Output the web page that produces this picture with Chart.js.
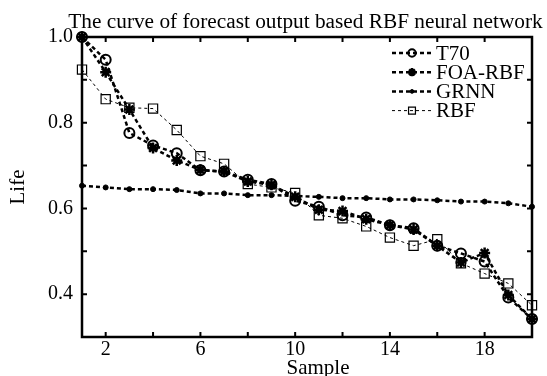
<!DOCTYPE html>
<html>
<head>
<meta charset="utf-8">
<script src="https://cdn.jsdelivr.net/npm/chart.js@4.4.0/dist/chart.umd.min.js"></script>
<style>
html, body { margin: 0; padding: 0; background: #fff; }
</style>
</head>
<body>
<canvas id="myChart" width="547" height="376"></canvas>
<script>
// values
const samples = [1, 2, 3, 4, 5, 6, 7, 8, 9, 10, 11, 12, 13, 14, 15, 16, 17, 18, 19, 20];
const t70 = [1.0, 0.947, 0.776, 0.747, 0.729, 0.689, 0.686, 0.667, 0.657, 0.618, 0.604, 0.584, 0.579, 0.561, 0.554, 0.513, 0.495, 0.476, 0.392, 0.342];
const foaRbf = [1.0, 0.918, 0.831, 0.741, 0.712, 0.690, 0.686, 0.663, 0.655, 0.627, 0.597, 0.594, 0.575, 0.561, 0.551, 0.513, 0.474, 0.496, 0.398, 0.342];
const grnn = [0.653, 0.649, 0.645, 0.645, 0.643, 0.635, 0.635, 0.631, 0.631, 0.629, 0.627, 0.624, 0.624, 0.621, 0.621, 0.619, 0.616, 0.616, 0.612, 0.604];
const rbf = [0.924, 0.855, 0.835, 0.833, 0.783, 0.722, 0.704, 0.657, 0.649, 0.636, 0.584, 0.577, 0.558, 0.532, 0.513, 0.528, 0.472, 0.448, 0.425, 0.374];

const xTickMarks = [2, 4, 6, 8, 10, 12, 14, 16, 18];
const xTickLabels = [2, 6, 10, 14, 18];
const yTickMarks = [0.4, 0.5, 0.6, 0.7, 0.8, 0.9];
const yTickLabels = [0.4, 0.6, 0.8, 1.0];

const titleText = 'The curve of forecast output based RBF neural network';
const xTitle = 'Sample';
const yTitle = 'Life';

const serif = '"Liberation Serif", "Times New Roman", serif';
const ctx = document.getElementById('myChart');

function toPoints(arr) {
    return samples.map((s, i) => ({ x: s, y: arr[i] }));
}

// box round the plot with inward ticks on all four sides
const framePlugin = {
    id: 'frame',
    beforeDatasetsDraw(chart) {
        const c = chart.ctx;
        const a = chart.chartArea;
        const xs = chart.scales.x;
        const ys = chart.scales.y;
        c.save();
        c.strokeStyle = '#000';
        c.lineWidth = 2;
        c.beginPath();
        xTickMarks.forEach(v => {
            const px = xs.getPixelForValue(v);
            c.moveTo(px, a.bottom); c.lineTo(px, a.bottom - 5);
            c.moveTo(px, a.top); c.lineTo(px, a.top + 5);
        });
        yTickMarks.forEach(v => {
            const py = ys.getPixelForValue(v);
            c.moveTo(a.left, py); c.lineTo(a.left + 5, py);
            c.moveTo(a.right, py); c.lineTo(a.right - 5, py);
        });
        c.stroke();
        c.lineWidth = 2.5;
        c.strokeRect(a.left, a.top, a.right - a.left, a.bottom - a.top);
        c.restore();
    },
    afterDraw(chart) {
        const c = chart.ctx;
        const a = chart.chartArea;
        c.save();
        c.fillStyle = '#000';
        c.textAlign = 'center';
        c.textBaseline = 'alphabetic';
        // title, nearly centred over the plot
        c.font = '21.3px ' + serif;
        c.fillText(titleText, (a.left + a.right) / 2 - 1.5, 28);
        // x axis title sits a bit right of centre in the figure
        c.font = '21px ' + serif;
        c.fillText(xTitle, (a.left + a.right) / 2 + 11, 374);
        c.restore();
    }
};

// legend inside the plot, upper right
const legendPlugin = {
    id: 'innerLegend',
    afterDraw(chart) {
        const c = chart.ctx;
        const x0 = 392, x1 = 432, top = 53, step = 19.2;
        chart.data.datasets.forEach((ds, i) => {
            const y = top + i * step;
            c.save();
            c.strokeStyle = '#000';
            c.lineWidth = ds.borderWidth;
            c.setLineDash(ds.borderDash || []);
            c.beginPath();
            c.moveTo(x0, y); c.lineTo(x1, y);
            c.stroke();
            c.setLineDash([]);
            c.fillStyle = ds.pointBackgroundColor;
            c.lineWidth = ds.pointBorderWidth;
            Chart.helpers.drawPoint(c, {
                pointStyle: ds.pointStyle,
                radius: ds.pointRadius * 0.75,
                borderWidth: ds.pointBorderWidth,
                rotation: 0
            }, (x0 + x1) / 2, y);
            c.fillStyle = '#000';
            c.font = '21px ' + serif;
            c.textAlign = 'left';
            c.textBaseline = 'middle';
            c.fillText(ds.label, x1 + 4, y + 1);
            c.restore();
        });
    }
};

const chart = new Chart(ctx, {
    type: 'line',
    data: {
        datasets: [{
            label: 'T70',
            data: toPoints(t70),
            borderColor: '#000',
            borderWidth: 2.5,
            borderDash: [4, 3],
            pointStyle: 'circle',
            pointRadius: 5,
            pointBorderWidth: 2,
            pointBorderColor: '#000',
            pointBackgroundColor: 'rgba(255,255,255,0)',
            clip: false
        }, {
            label: 'FOA-RBF',
            data: toPoints(foaRbf),
            borderColor: '#000',
            borderWidth: 2.5,
            borderDash: [4, 3],
            pointStyle: 'star',
            pointRadius: 5.5,
            pointBorderWidth: 2.5,
            pointBorderColor: '#000',
            pointBackgroundColor: '#000',
            clip: false
        }, {
            label: 'GRNN',
            data: toPoints(grnn),
            borderColor: '#000',
            borderWidth: 2.5,
            borderDash: [4, 3],
            pointStyle: 'circle',
            pointRadius: 2.5,
            pointBorderWidth: 1,
            pointBorderColor: '#000',
            pointBackgroundColor: '#000',
            clip: false
        }, {
            label: 'RBF',
            data: toPoints(rbf),
            borderColor: '#000',
            borderWidth: 1,
            borderDash: [3, 3],
            pointStyle: 'rect',
            pointRadius: 6.5,
            pointBorderWidth: 1.2,
            pointBorderColor: '#000',
            pointBackgroundColor: 'rgba(255,255,255,0)',
            clip: false
        }]
    },
    options: {
        responsive: false,
        animation: false,
        layout: { padding: { left: 0, right: 15, top: 37, bottom: 0 } },
        plugins: {
            legend: { display: false },
            tooltip: { enabled: false },
            title: { display: false }
        },
        scales: {
            x: {
                type: 'linear',
                min: 1,
                max: 20,
                border: { display: false },
                grid: { display: false, drawTicks: false },
                afterBuildTicks: s => { s.ticks = xTickLabels.map(v => ({ value: v })); },
                afterFit: s => { s.height = 39; },
                ticks: {
                    autoSkip: false,
                    maxRotation: 0,
                    color: '#000',
                    padding: 1,
                    font: { family: serif, size: 20 }
                }
            },
            y: {
                min: 0.3,
                max: 1.0,
                border: { display: false },
                grid: { display: false, drawTicks: false },
                afterBuildTicks: s => { s.ticks = yTickLabels.map(v => ({ value: v })); },
                afterFit: s => { s.width = 82; },
                title: {
                    display: true,
                    text: yTitle,
                    color: '#000',
                    font: { family: serif, size: 21, lineHeight: 1.2 },
                    padding: { top: 6, bottom: 0 }
                },
                ticks: {
                    autoSkip: false,
                    color: '#000',
                    padding: 9,
                    font: { family: serif, size: 20 },
                    callback: v => v.toFixed(1)
                }
            }
        }
    },
    plugins: [framePlugin, legendPlugin]
});
</script>
</body>
</html>
